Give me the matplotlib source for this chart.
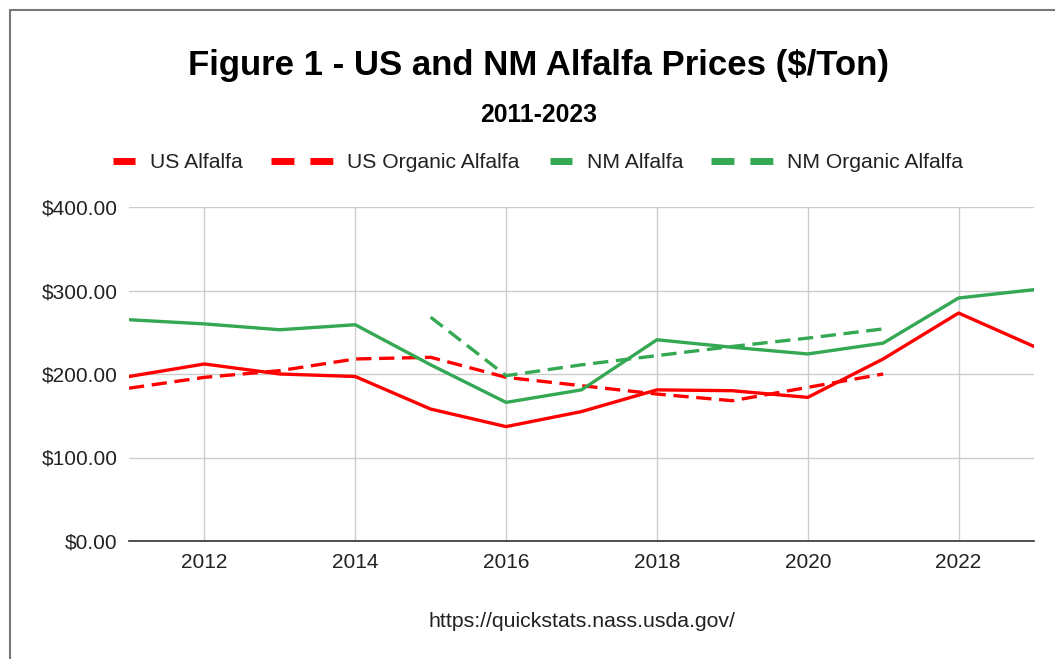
import matplotlib
matplotlib.use('Agg')
import matplotlib.pyplot as plt
from matplotlib.lines import Line2D
from matplotlib.patches import Rectangle

plt.rcParams['font.family'] = ['Liberation Sans', 'DejaVu Sans']
plt.rcParams['lines.scale_dashes'] = False

# Data ($/ton)
years = list(range(2011, 2024))
us_alfalfa = [197, 212, 200, 197, 158, 137, 155, 181, 180, 172, 218, 273, 233]
nm_alfalfa = [265, 260, 253, 259, 211, 166, 181, 241, 232, 224, 237, 291, 301]

us_organic_years = list(range(2011, 2022))
us_organic = [183, 196, 204, 218, 220, 196, 186, 176, 168, 184, 200]

nm_organic_years = list(range(2015, 2022))
nm_organic = [268, 198, 211, 222, 233, 243, 254]

RED = '#ff0000'
GREEN = '#34a853'
W, H = 1055, 659


def px(x, y):
    # pixel position -> figure fraction
    return x / W, 1 - y / H


fig = plt.figure(figsize=(W / 100, H / 100), dpi=100)
fig.patch.set_facecolor('white')

ax = fig.add_axes([129 / W, 1 - 541 / H, (1034 - 129) / W, (541 - 207) / H])

ax.plot(years, us_alfalfa, color=RED, lw=2.4, solid_joinstyle='round')
ax.plot(us_organic_years, us_organic, color=RED, lw=2.4, dashes=(11, 5.5), dash_capstyle='butt')
ax.plot(years, nm_alfalfa, color=GREEN, lw=2.4, solid_joinstyle='round')
ax.plot(nm_organic_years, nm_organic, color=GREEN, lw=2.4, dashes=(11, 5.5), dash_capstyle='butt')

ax.set_xlim(2011, 2023)
ax.set_ylim(0, 400)
ax.set_xticks(range(2012, 2023, 2))
ax.set_yticks([0, 100, 200, 300, 400])
ax.yaxis.set_major_formatter(lambda v, p: f'${v:,.2f}')
ax.tick_params(length=0, labelsize=15, labelcolor='#222222')
ax.tick_params(axis='y', pad=8)
ax.tick_params(axis='x', pad=9)

ax.set_axisbelow(True)
ax.grid(color='#cccccc', lw=1.0)
for s in ['top', 'left', 'right']:
    ax.spines[s].set_visible(False)
ax.spines['bottom'].set_color('#333333')
ax.spines['bottom'].set_linewidth(1.2)

# titles
tx, ty = px(539, 74.5)
fig.text(tx, ty, 'Figure 1 - US and NM Alfalfa Prices ($/Ton)', ha='center', va='baseline',
         fontsize=25, fontweight='bold', color='black')
tx, ty = px(539, 121.5)
fig.text(tx, ty, '2011-2023', ha='center', va='baseline', fontsize=17.8, fontweight='bold', color='black')

# legend, laid out like the sheets chart
legend_items = [
    ('US Alfalfa', RED, False, 113, 150),
    ('US Organic Alfalfa', RED, True, 271, 347),
    ('NM Alfalfa', GREEN, False, 550, 587),
    ('NM Organic Alfalfa', GREEN, True, 711, 787),
]
for label, color, dashed, hx, lx in legend_items:
    if dashed:
        x0, y0 = px(hx, 160.5)
        x1, _ = px(hx + 62, 160.5)
        fig.add_artist(Line2D([x0, x1], [y0, y0], transform=fig.transFigure, color=color,
                              lw=5, dashes=(16.5, 11.5), dash_capstyle='butt'))
    else:
        x0, y0 = px(hx, 160.5)
        x1, _ = px(hx + 22, 160.5)
        fig.add_artist(Line2D([x0, x1], [y0, y0], transform=fig.transFigure, color=color,
                              lw=5, solid_capstyle='butt'))
    lxf, lyf = px(lx, 167.5)
    fig.text(lxf, lyf, label, ha='left', va='baseline', fontsize=15.2, color='#222222')

# source
sx, sy = px(582, 627)
fig.text(sx, sy, 'https://quickstats.nass.usda.gov/', ha='center', va='baseline',
         fontsize=15.3, color='#222222')

# outer frame (only top/left visible in the crop)
bx, by = px(10, 10)
fig.add_artist(Rectangle((bx, -0.1), 1.2, by + 0.1, transform=fig.transFigure,
                         fill=False, edgecolor='#777777', lw=1.5))

fig.savefig('out.png', dpi=100)
